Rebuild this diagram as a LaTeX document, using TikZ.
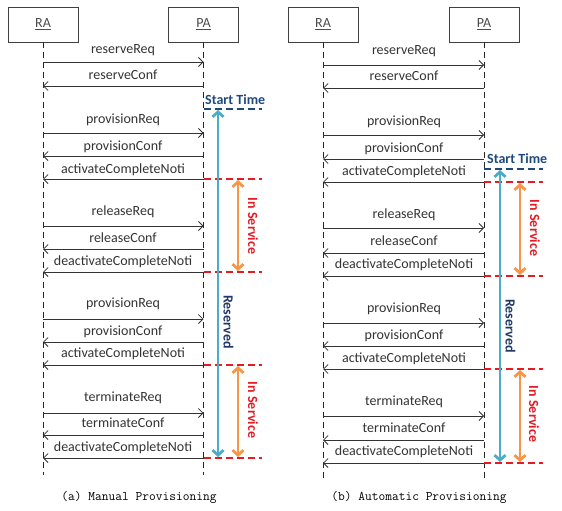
\documentclass[tikz,border=0pt]{standalone}
\usepackage{fontspec}
\setmainfont{Carlito}
\usetikzlibrary{arrows.meta}
\definecolor{navyT}{HTML}{1F497D}
\definecolor{navyD}{HTML}{1F3864}
\definecolor{cyanA}{HTML}{4BACC6}
\definecolor{orangeA}{HTML}{F79646}
\definecolor{redA}{HTML}{E31B23}
\definecolor{txt}{HTML}{333333}
\begin{document}
\begin{tikzpicture}[x=1pt,y=-1pt,
  actor/.style={draw=black!75, line width=0.7pt, minimum width=70pt, minimum height=35pt, inner sep=0pt,
    font=\fontsize{14}{16}\selectfont, text=black!70},
  lifeline/.style={line width=0.7pt, black!85, dash pattern=on 6pt off 4pt},
  msg/.style={-{Straight Barb[length=4.5pt,width=9pt]}, line width=0.8pt, txt},
  lbl/.style={font=\fontsize{14}{16}\selectfont, text=txt, inner sep=0pt, anchor=base},
  timemark/.style={line width=2.6pt, dash pattern=on 7pt off 4pt},
  spanarrow/.style={{Straight Barb[length=5pt,width=11pt]}-{Straight Barb[length=5pt,width=11pt]}, line width=2.8pt},
  vlbl/.style={rotate=-90, font=\bfseries\fontsize{14}{16}\selectfont, inner sep=0pt},
  captext/.style={font=\ttfamily\fontsize{13.1}{15}\selectfont, text=black, inner sep=0pt}
]
\useasboundingbox (0,0) rectangle (562,511);

% ---------- panel (a) ----------
\node[actor] (raA) at (43,24.5) {\underline{RA}};
\node[actor] (paA) at (203.5,24.5) {\underline{PA}};
\coordinate (raAend) at (43,475);
\coordinate (paAend) at (203.5,475);
\draw[lifeline] (raA.south) -- (raAend);
\draw[lifeline] (paA.south) -- (paAend);

\foreach \i/\t/\b/\a/\s/\e in {
  1/reserveReq/53/62/ra/pa,
  2/reserveConf/80/86/pa/ra,
  3/provisionReq/123/133/ra/pa,
  4/provisionConf/150/156/pa/ra,
  5/activateCompleteNoti/173/179/pa/ra,
  6/releaseReq/215/226/ra/pa,
  7/releaseConf/242/249/pa/ra,
  8/deactivateCompleteNoti/265/272/pa/ra,
  9/provisionReq/307/319/ra/pa,
  10/provisionConf/335/342/pa/ra,
  11/activateCompleteNoti/357/365/pa/ra,
  12/terminateReq/401/413/ra/pa,
  13/terminateConf/427/435/pa/ra,
  14/deactivateCompleteNoti/451/458/pa/ra}{
  \coordinate (A-ra-\i) at (43,\a);
  \coordinate (A-pa-\i) at (203.5,\a);
  \node[lbl] (A-lbl-\i) at (123,\b) {\t};
  \draw[msg] (A-\s-\i) -- (A-\e-\i);
}

\node[anchor=base west, inner sep=0pt, text=navyT, font=\bfseries\fontsize{14}{16}\selectfont] (stA) at (205,104) {Start Time};
\coordinate (stA1) at (203.5,109); \coordinate (stA2) at (262,109);
\draw[timemark, navyT] (stA1) -- (stA2);
\foreach \k/\y in {1/179,2/272,3/365,4/458}{
  \coordinate (rA\k a) at (203.5,\y); \coordinate (rA\k b) at (262,\y);
  \draw[timemark, redA] (rA\k a) -- (rA\k b);
}
\coordinate (cyA1) at (218,110); \coordinate (cyA2) at (218,457);
\draw[spanarrow, cyanA] (cyA1) -- (cyA2);
\coordinate (orA1) at (238,180); \coordinate (orA2) at (238,271);
\coordinate (orA3) at (238,366); \coordinate (orA4) at (238,457);
\draw[spanarrow, orangeA] (orA1) -- (orA2);
\draw[spanarrow, orangeA] (orA3) -- (orA4);
\node[vlbl, text=redA] (isA1) at (253,226) {In Service};
\node[vlbl, text=redA] (isA2) at (253,410) {In Service};
\node[vlbl, text=navyD] (rsA) at (228.5,322) {Reserved};
\node[captext] (capA) at (139,497) {(a) Manual Provisioning};

% ---------- panel (b) ----------
\node[actor] (raB) at (323,24.5) {\underline{RA}};
\node[actor] (paB) at (484,24.5) {\underline{PA}};
\coordinate (raBend) at (323,480);
\coordinate (paBend) at (484,480);
\draw[lifeline] (raB.south) -- (raBend);
\draw[lifeline] (paB.south) -- (paBend);

\foreach \i/\t/\b/\a/\s/\e in {
  1/reserveReq/55/65/ra/pa,
  2/reserveConf/81/88/pa/ra,
  3/provisionReq/125/135/ra/pa,
  4/provisionConf/152/159/pa/ra,
  5/activateCompleteNoti/175/182/pa/ra,
  6/releaseReq/218/228/ra/pa,
  7/releaseConf/245/253/pa/ra,
  8/deactivateCompleteNoti/268/276/pa/ra,
  9/provisionReq/312/323/ra/pa,
  10/provisionConf/339/346/pa/ra,
  11/activateCompleteNoti/362/369/pa/ra,
  12/terminateReq/405/416/ra/pa,
  13/terminateConf/432/440/pa/ra,
  14/deactivateCompleteNoti/455/463/pa/ra}{
  \coordinate (B-ra-\i) at (323,\a);
  \coordinate (B-pa-\i) at (484,\a);
  \node[lbl] (B-lbl-\i) at (404,\b) {\t};
  \draw[msg] (B-\s-\i) -- (B-\e-\i);
}

\node[anchor=base west, inner sep=0pt, text=navyT, font=\bfseries\fontsize{14}{16}\selectfont] (stB) at (487,163) {Start Time};
\coordinate (stB1) at (484,169); \coordinate (stB2) at (543,169);
\draw[timemark, navyT] (stB1) -- (stB2);
\foreach \k/\y in {1/182,2/276,3/369,4/463}{
  \coordinate (rB\k a) at (484,\y); \coordinate (rB\k b) at (543,\y);
  \draw[timemark, redA] (rB\k a) -- (rB\k b);
}
\coordinate (cyB1) at (500,170); \coordinate (cyB2) at (500,462);
\draw[spanarrow, cyanA] (cyB1) -- (cyB2);
\coordinate (orB1) at (520,183); \coordinate (orB2) at (520,275);
\coordinate (orB3) at (520,370); \coordinate (orB4) at (520,462);
\draw[spanarrow, orangeA] (orB1) -- (orB2);
\draw[spanarrow, orangeA] (orB3) -- (orB4);
\node[vlbl, text=redA] (isB1) at (535,228) {In Service};
\node[vlbl, text=redA] (isB2) at (534,414) {In Service};
\node[vlbl, text=navyD] (rsB) at (510.5,326) {Reserved};
\node[captext] (capB) at (419,497) {(b) Automatic Provisioning};
\end{tikzpicture}
\end{document}
